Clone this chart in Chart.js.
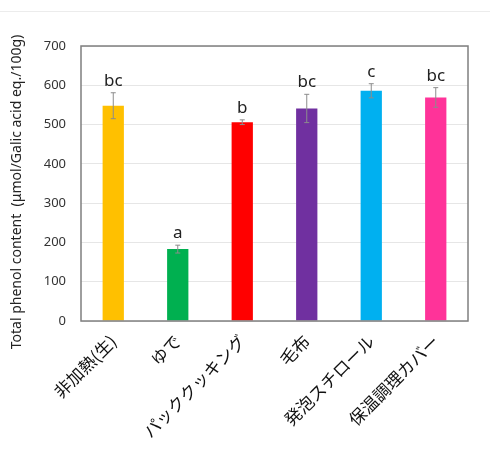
<!DOCTYPE html>
<html>
<head>
<meta charset="utf-8">
<script src="https://cdn.jsdelivr.net/npm/chart.js@4"></script>
<style>
  body { margin: 0; background: #fff; }
  #wrap { position: relative; width: 494px; height: 451px; }
  #topline { position: absolute; left: 0; top: 11px; width: 490px; height: 1px; background: #ececec; }
  canvas { position: absolute; left: 0; top: 0; }
</style>
</head>
<body>
<div id="wrap">
  <div id="topline"></div>
  <canvas id="phenolChart" width="494" height="451"></canvas>
</div>
<script>
const categories = ['非加熱(生)', 'ゆで', 'パッククッキング', '毛布', '発泡スチロール', '保温調理カバー'];
const phenolValues = [548, 183, 506, 541, 586, 569];
const errorValues = [33, 10, 6, 36, 18, 25];
const groupLetters = ['bc', 'a', 'b', 'bc', 'c', 'bc'];
const barColors = ['#FFC000', '#00B050', '#FF0000', '#7030A0', '#00B0F0', '#FF3399'];
const yTicks = [0, 100, 200, 300, 400, 500, 600, 700];
const yTitle = 'Total phenol content  (μmol/Galic acid eq./100g)';

// error bars + significance letters
const errorBarPlugin = {
    id: 'errorBars',
    afterDatasetsDraw(chart) {
        const ctx = chart.ctx;
        const yScale = chart.scales.y;
        const meta = chart.getDatasetMeta(0);
        ctx.save();
        meta.data.forEach(function (bar, i) {
            const x = bar.x;
            const top = yScale.getPixelForValue(phenolValues[i] + errorValues[i]);
            const bottom = yScale.getPixelForValue(phenolValues[i] - errorValues[i]);
            ctx.strokeStyle = '#8c8c8c';
            ctx.lineWidth = 1;
            ctx.beginPath();
            ctx.moveTo(x, top);
            ctx.lineTo(x, bottom);
            ctx.moveTo(x - 2.5, top);
            ctx.lineTo(x + 2.5, top);
            ctx.moveTo(x - 2.5, bottom);
            ctx.lineTo(x + 2.5, bottom);
            ctx.stroke();

            ctx.fillStyle = '#222';
            ctx.font = '17px "Noto Sans"';
            ctx.textAlign = 'center';
            ctx.textBaseline = 'alphabetic';
            ctx.fillText(groupLetters[i], x, top - 7);
        });
        ctx.restore();
    }
};

// frame around plot area + y title
const framePlugin = {
    id: 'frame',
    afterDraw(chart) {
        const a = chart.chartArea;
        const ctx = chart.ctx;
        ctx.save();
        ctx.strokeStyle = '#7f7f7f';
        ctx.lineWidth = 1.5;
        ctx.strokeRect(a.left, a.top, a.right - a.left, a.bottom - a.top);

        ctx.translate(17, 192);
        ctx.rotate(-Math.PI / 2);
        ctx.fillStyle = '#222';
        ctx.font = '14px "Noto Sans"';
        ctx.textAlign = 'center';
        ctx.textBaseline = 'middle';
        ctx.fillText(yTitle, 0, 0);
        ctx.restore();
    }
};

const ctx = document.getElementById('phenolChart').getContext('2d');
const phenolChart = new Chart(ctx, {
    type: 'bar',
    data: {
        labels: categories,
        datasets: [{
            data: phenolValues,
            backgroundColor: barColors,
            categoryPercentage: 1,
            barPercentage: 0.33
        }]
    },
    options: {
        responsive: false,
        animation: false,
        layout: { padding: { top: 46, right: 26, left: 0, bottom: 0 } },
        plugins: {
            legend: { display: false },
            tooltip: { enabled: false }
        },
        scales: {
            x: {
                grid: { display: false },
                border: { display: false },
                ticks: {
                    color: '#111',
                    font: { family: '"Noto Sans CJK JP"', size: 17 },
                    minRotation: 45,
                    maxRotation: 45,
                    padding: 2
                },
                afterFit(scale) { scale.height = 451 - 321; }
            },
            y: {
                min: 0,
                max: 700,
                afterBuildTicks(scale) {
                    scale.ticks = yTicks.map(function (v) { return { value: v }; });
                },
                grid: { color: '#e6e6e6', drawTicks: false },
                border: { display: false },
                ticks: {
                    color: '#333',
                    font: { family: '"Noto Sans"', size: 13 },
                    padding: 15
                },
                afterFit(scale) { scale.width = 81; }
            }
        }
    },
    plugins: [errorBarPlugin, framePlugin]
});
</script>
</body>
</html>
